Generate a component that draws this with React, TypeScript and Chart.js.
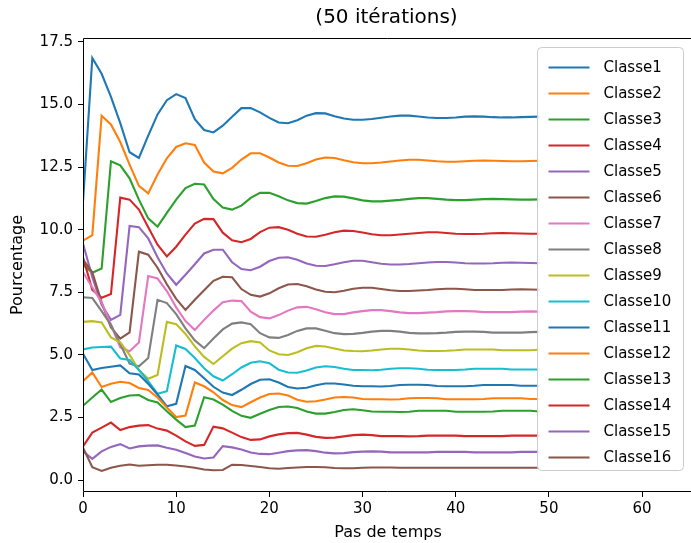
import React, { useEffect, useRef } from 'react';
import { Chart, registerables } from 'chart.js';

Chart.register(...registerables);

const steps = [
  0, 1, 2, 3, 4, 5, 6, 7, 8, 9, 10, 11, 12, 13, 14, 15, 16, 17, 18, 19, 20, 21, 22, 23, 24,
  25, 26, 27, 28, 29, 30, 31, 32, 33, 34, 35, 36, 37, 38, 39, 40, 41, 42, 43, 44, 45, 46, 47, 48, 49,
];

const classLabels = [
  'Classe1', 'Classe2', 'Classe3', 'Classe4', 'Classe5', 'Classe6', 'Classe7', 'Classe8',
  'Classe9', 'Classe10', 'Classe11', 'Classe12', 'Classe13', 'Classe14', 'Classe15', 'Classe16',
];

const classColors = [
  '#1f77b4', '#ff7f0e', '#2ca02c', '#d62728', '#9467bd', '#8c564b', '#e377c2', '#7f7f7f',
  '#bcbd22', '#17becf', '#1f77b4', '#ff7f0e', '#2ca02c', '#d62728', '#9467bd', '#8c564b',
];

const classe1 = [11.1, 16.85, 16.22, 15.3, 14.25, 13.09, 12.86, 13.75, 14.6, 15.17, 15.41, 15.25, 14.41, 13.98, 13.88, 14.15, 14.51, 14.85, 14.85, 14.68, 14.46, 14.28, 14.25, 14.37, 14.55, 14.65, 14.64, 14.53, 14.44, 14.39, 14.39, 14.42, 14.47, 14.52, 14.55, 14.55, 14.52, 14.48, 14.46, 14.46, 14.48, 14.51, 14.52, 14.51, 14.49, 14.48, 14.48, 14.49, 14.5, 14.51];
const classe2 = [9.56, 9.78, 14.55, 14.2, 13.5, 12.6, 11.75, 11.45, 12.2, 12.85, 13.3, 13.45, 13.38, 12.68, 12.32, 12.25, 12.47, 12.8, 13.05, 13.05, 12.88, 12.68, 12.55, 12.54, 12.65, 12.8, 12.88, 12.86, 12.77, 12.69, 12.65, 12.65, 12.68, 12.72, 12.76, 12.79, 12.79, 12.76, 12.73, 12.71, 12.71, 12.73, 12.75, 12.76, 12.75, 12.74, 12.73, 12.73, 12.74, 12.75];
const classe3 = [8.6, 8.28, 8.45, 12.73, 12.57, 12.05, 11.2, 10.45, 10.12, 10.67, 11.2, 11.66, 11.83, 11.8, 11.22, 10.88, 10.8, 10.96, 11.27, 11.47, 11.47, 11.33, 11.17, 11.06, 11.04, 11.14, 11.26, 11.33, 11.32, 11.25, 11.17, 11.13, 11.13, 11.16, 11.19, 11.23, 11.26, 11.26, 11.23, 11.2, 11.18, 11.18, 11.2, 11.22, 11.23, 11.22, 11.21, 11.2, 11.2, 11.21];
const classe4 = [8.9, 7.6, 7.28, 7.43, 11.28, 11.2, 10.8, 10.1, 9.4, 8.93, 9.32, 9.8, 10.24, 10.43, 10.42, 9.88, 9.58, 9.5, 9.63, 9.9, 10.08, 10.1, 10.0, 9.84, 9.73, 9.72, 9.8, 9.9, 9.96, 9.95, 9.89, 9.82, 9.78, 9.78, 9.81, 9.84, 9.87, 9.9, 9.9, 9.87, 9.84, 9.83, 9.83, 9.84, 9.86, 9.87, 9.86, 9.85, 9.84, 9.84];
const classe5 = [9.45, 8.1, 7.0, 6.4, 6.6, 10.15, 10.1, 9.65, 8.9, 8.25, 7.8, 8.2, 8.62, 9.05, 9.2, 9.2, 8.7, 8.43, 8.38, 8.52, 8.75, 8.88, 8.9, 8.8, 8.65, 8.56, 8.55, 8.62, 8.7, 8.76, 8.76, 8.7, 8.64, 8.61, 8.61, 8.63, 8.66, 8.69, 8.71, 8.71, 8.69, 8.66, 8.65, 8.65, 8.66, 8.68, 8.69, 8.68, 8.67, 8.66];
const classe6 = [8.8, 8.3, 7.1, 6.1, 5.65, 5.9, 9.12, 9.0, 8.48, 7.82, 7.24, 6.8, 7.2, 7.58, 7.96, 8.12, 8.1, 7.63, 7.4, 7.33, 7.46, 7.66, 7.81, 7.83, 7.74, 7.61, 7.52, 7.5, 7.56, 7.64, 7.68, 7.68, 7.63, 7.58, 7.55, 7.55, 7.57, 7.59, 7.62, 7.64, 7.64, 7.62, 7.59, 7.59, 7.59, 7.59, 7.61, 7.62, 7.61, 7.6];
const classe7 = [8.3, 7.7, 7.1, 6.2, 5.3, 5.15, 5.5, 8.15, 8.05, 7.55, 6.9, 6.35, 6.0, 6.4, 6.77, 7.1, 7.17, 7.15, 6.73, 6.51, 6.46, 6.59, 6.77, 6.9, 6.92, 6.82, 6.7, 6.63, 6.63, 6.7, 6.75, 6.79, 6.79, 6.75, 6.7, 6.67, 6.67, 6.69, 6.71, 6.74, 6.75, 6.75, 6.74, 6.71, 6.71, 6.71, 6.71, 6.73, 6.74, 6.73];
const classe8 = [7.3, 7.27, 6.75, 6.2, 5.44, 4.65, 4.55, 4.88, 7.2, 7.07, 6.63, 6.06, 5.58, 5.27, 5.66, 6.02, 6.25, 6.3, 6.23, 5.87, 5.7, 5.68, 5.8, 5.96, 6.06, 6.06, 5.97, 5.87, 5.83, 5.84, 5.88, 5.93, 5.96, 5.96, 5.93, 5.88, 5.86, 5.86, 5.87, 5.89, 5.92, 5.93, 5.93, 5.92, 5.89, 5.89, 5.89, 5.89, 5.91, 5.92];
const classe9 = [6.32, 6.35, 6.3, 5.7, 5.5, 5.0, 4.4, 4.05, 4.2, 6.32, 6.23, 5.84, 5.34, 4.92, 4.64, 4.95, 5.25, 5.47, 5.55, 5.5, 5.18, 5.03, 5.0, 5.11, 5.27, 5.36, 5.34, 5.26, 5.18, 5.16, 5.15, 5.18, 5.22, 5.25, 5.25, 5.22, 5.18, 5.16, 5.16, 5.17, 5.19, 5.22, 5.22, 5.22, 5.22, 5.19, 5.19, 5.19, 5.19, 5.21];
const classe10 = [5.22, 5.3, 5.32, 5.33, 4.86, 4.8, 4.4, 3.95, 3.45, 3.55, 5.38, 5.24, 4.88, 4.47, 4.15, 3.98, 4.23, 4.5, 4.69, 4.75, 4.67, 4.41, 4.3, 4.29, 4.38, 4.5, 4.55, 4.52, 4.45, 4.4, 4.4, 4.39, 4.41, 4.45, 4.47, 4.47, 4.45, 4.41, 4.4, 4.4, 4.4, 4.42, 4.45, 4.45, 4.45, 4.45, 4.42, 4.42, 4.42, 4.42];
const classe11 = [5.05, 4.4, 4.48, 4.53, 4.58, 4.27, 4.22, 3.85, 3.42, 2.95, 3.05, 4.56, 4.4, 4.07, 3.73, 3.5, 3.4, 3.61, 3.84, 4.01, 4.03, 3.9, 3.72, 3.66, 3.69, 3.79, 3.86, 3.86, 3.82, 3.77, 3.75, 3.75, 3.74, 3.76, 3.8, 3.81, 3.81, 3.8, 3.76, 3.75, 3.75, 3.75, 3.77, 3.8, 3.8, 3.8, 3.8, 3.77, 3.77, 3.77];
const classe12 = [3.95, 4.3, 3.72, 3.85, 3.93, 3.88, 3.68, 3.6, 3.3, 2.9, 2.52, 2.58, 3.9, 3.75, 3.51, 3.2, 3.0, 2.92, 3.11, 3.3, 3.44, 3.46, 3.38, 3.21, 3.13, 3.15, 3.22, 3.3, 3.32, 3.3, 3.24, 3.23, 3.23, 3.22, 3.23, 3.27, 3.28, 3.28, 3.27, 3.23, 3.23, 3.23, 3.23, 3.24, 3.27, 3.27, 3.27, 3.27, 3.24, 3.24];
const classe13 = [2.97, 3.3, 3.62, 3.12, 3.28, 3.38, 3.4, 3.2, 3.1, 2.75, 2.42, 2.12, 2.18, 3.31, 3.22, 3.02, 2.77, 2.57, 2.49, 2.65, 2.8, 2.92, 2.94, 2.88, 2.74, 2.66, 2.66, 2.72, 2.8, 2.83, 2.79, 2.74, 2.73, 2.73, 2.72, 2.73, 2.77, 2.77, 2.77, 2.77, 2.73, 2.73, 2.73, 2.73, 2.74, 2.77, 2.77, 2.77, 2.77, 2.74];
const classe14 = [1.35, 1.9, 2.1, 2.3, 2.0, 2.12, 2.18, 2.2, 2.06, 1.98, 1.78, 1.55, 1.37, 1.41, 2.14, 2.07, 1.9, 1.72, 1.61, 1.63, 1.75, 1.83, 1.88, 1.89, 1.82, 1.73, 1.69, 1.7, 1.75, 1.8, 1.82, 1.8, 1.76, 1.76, 1.76, 1.75, 1.76, 1.78, 1.78, 1.78, 1.78, 1.76, 1.76, 1.76, 1.76, 1.76, 1.78, 1.78, 1.78, 1.78];
const classe15 = [1.15, 0.85, 1.15, 1.33, 1.44, 1.27, 1.35, 1.38, 1.39, 1.3, 1.22, 1.09, 0.95, 0.87, 0.91, 1.36, 1.31, 1.23, 1.11, 1.05, 1.04, 1.1, 1.16, 1.19, 1.2, 1.16, 1.1, 1.07, 1.08, 1.12, 1.14, 1.15, 1.14, 1.11, 1.11, 1.11, 1.11, 1.11, 1.13, 1.13, 1.13, 1.13, 1.11, 1.11, 1.11, 1.11, 1.11, 1.13, 1.13, 1.13];
const classe16 = [1.3, 0.52, 0.37, 0.5, 0.58, 0.63, 0.58, 0.6, 0.62, 0.62, 0.59, 0.55, 0.5, 0.43, 0.4, 0.41, 0.62, 0.61, 0.57, 0.53, 0.48, 0.46, 0.49, 0.51, 0.53, 0.53, 0.52, 0.49, 0.48, 0.48, 0.5, 0.51, 0.51, 0.51, 0.5, 0.5, 0.5, 0.5, 0.5, 0.5, 0.5, 0.5, 0.5, 0.5, 0.5, 0.5, 0.5, 0.5, 0.5, 0.5];

const seriesValues = [
  classe1, classe2, classe3, classe4, classe5, classe6, classe7, classe8,
  classe9, classe10, classe11, classe12, classe13, classe14, classe15, classe16,
];

const xTickValues = [0, 10, 20, 30, 40, 50, 60];
const yTickValues = [0, 2.5, 5, 7.5, 10, 12.5, 15, 17.5];

const titleText = '(50 itérations)';
const xAxisLabel = 'Pas de temps';
const yAxisLabel = 'Pourcentage';

const FONT = "'DejaVu Sans', sans-serif";

const decorPlugin = {
  id: 'decor',
  afterDraw(chart: any) {
    const { ctx, chartArea } = chart;
    const { left, right, top, bottom } = chartArea;
    ctx.save();
    // spines (right spine falls outside the visible picture)
    ctx.strokeStyle = '#000';
    ctx.lineWidth = 1;
    const l = Math.round(left) + 0.5;
    const t = Math.round(top) + 0.5;
    const b = Math.round(bottom) - 0.5;
    ctx.beginPath();
    ctx.moveTo(right + 2, t);
    ctx.lineTo(l, t);
    ctx.lineTo(l, b);
    ctx.lineTo(right + 2, b);
    ctx.stroke();

    // title and axis labels
    ctx.fillStyle = '#000';
    ctx.textAlign = 'center';
    ctx.textBaseline = 'middle';
    ctx.font = `20px ${FONT}`;
    ctx.fillText(titleText, 386.5, 18);
    ctx.font = `16px ${FONT}`;
    ctx.fillText(xAxisLabel, 388, 533);
    ctx.save();
    ctx.translate(18, (top + bottom) / 2);
    ctx.rotate(-Math.PI / 2);
    ctx.fillText(yAxisLabel, 0, 0);
    ctx.restore();

    // legend
    const bx = 537.5;
    const by = top + 9.5;
    const bw = 146;
    const bh = 423;
    ctx.beginPath();
    const r = 4;
    ctx.moveTo(bx + r, by);
    ctx.lineTo(bx + bw - r, by);
    ctx.quadraticCurveTo(bx + bw, by, bx + bw, by + r);
    ctx.lineTo(bx + bw, by + bh - r);
    ctx.quadraticCurveTo(bx + bw, by + bh, bx + bw - r, by + bh);
    ctx.lineTo(bx + r, by + bh);
    ctx.quadraticCurveTo(bx, by + bh, bx, by + bh - r);
    ctx.lineTo(bx, by + r);
    ctx.quadraticCurveTo(bx, by, bx + r, by);
    ctx.closePath();
    ctx.fillStyle = 'rgba(255,255,255,0.85)';
    ctx.fill();
    ctx.strokeStyle = '#cccccc';
    ctx.lineWidth = 1;
    ctx.stroke();

    ctx.font = `15px ${FONT}`;
    ctx.textAlign = 'left';
    ctx.textBaseline = 'middle';
    chart.data.datasets.forEach((ds: any, i: number) => {
      const y = by + 20 + i * 26;
      ctx.strokeStyle = ds.borderColor;
      ctx.lineWidth = 2;
      ctx.beginPath();
      ctx.moveTo(bx + 11, y);
      ctx.lineTo(bx + 52, y);
      ctx.stroke();
      ctx.fillStyle = '#000';
      ctx.fillText(ds.label, bx + 66, y + 1);
    });
    ctx.restore();
  },
};

export default function App() {
  const canvasRef = useRef<HTMLCanvasElement | null>(null);

  useEffect(() => {
    const canvas = canvasRef.current;
    if (!canvas) return;
    const datasets = seriesValues.map((vals, i) => ({
      label: classLabels[i],
      data: steps.map((s, j) => ({ x: s, y: vals[j] })),
      borderColor: classColors[i],
      backgroundColor: classColors[i],
      borderWidth: 2.1,
      pointRadius: 0,
      tension: 0,
      fill: false,
      order: seriesValues.length - i,
    }));

    const tickFont = { family: FONT, size: 15 };

    const chart = new Chart(canvas, {
      type: 'line',
      data: { datasets },
      options: {
        animation: false,
        responsive: false,
        devicePixelRatio: 1,
        layout: { padding: { left: 0, right: 0, top: 38, bottom: 0 } },
        plugins: {
          legend: { display: false },
          tooltip: { enabled: false },
          title: { display: false },
        },
        scales: {
          x: {
            type: 'linear',
            min: 0,
            max: 65.25,
            afterBuildTicks: (scale: any) => {
              scale.ticks = xTickValues.map((v) => ({ value: v }));
            },
            afterFit: (scale: any) => {
              scale.height = 51;
            },
            ticks: {
              color: '#000',
              font: tickFont,
              padding: 3,
              maxRotation: 0,
              autoSkip: false,
              callback: (v: any) => String(v),
            },
            grid: {
              display: true,
              drawOnChartArea: false,
              drawTicks: true,
              tickLength: 5,
              color: '#000',
            },
            border: { display: false },
          },
          y: {
            type: 'linear',
            min: -0.47,
            max: 17.65,
            afterBuildTicks: (scale: any) => {
              scale.ticks = yTickValues.map((v) => ({ value: v }));
            },
            afterFit: (scale: any) => {
              scale.width = 83;
            },
            ticks: {
              color: '#000',
              font: tickFont,
              padding: 5,
              autoSkip: false,
              callback: (v: any) => Number(v).toFixed(1),
            },
            grid: {
              display: true,
              drawOnChartArea: false,
              drawTicks: true,
              tickLength: 5,
              color: '#000',
            },
            border: { display: false },
          },
        },
      },
      plugins: [decorPlugin],
    } as any);

    return () => {
      chart.destroy();
    };
  }, []);

  return (
    <div style={{ position: 'absolute', left: 0, top: 0, width: 691, height: 543, background: '#fff' }}>
      <canvas ref={canvasRef} width={691} height={543} style={{ display: 'block' }} />
    </div>
  );
}
